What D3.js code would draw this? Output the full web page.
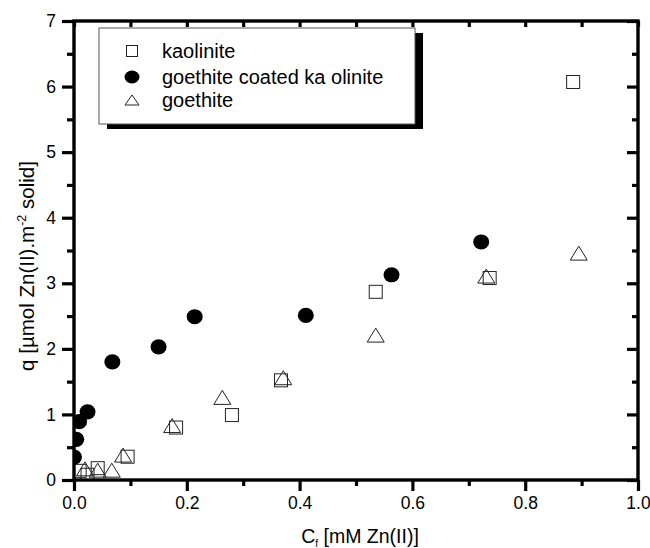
<!DOCTYPE html>
<html>
<head>
<meta charset="utf-8">
<script src="https://cdn.jsdelivr.net/npm/d3@7/dist/d3.min.js"></script>
<style>
  body { margin: 0; background: #fff; }
  svg { display: block; font-family: Arial, "Liberation Sans", sans-serif; }
</style>
</head>
<body>
<div id="chart"></div>
<script>
// series values
var kaoliniteX = [0.010, 0.024, 0.042, 0.095, 0.181, 0.280, 0.367, 0.535, 0.737, 0.885];
var kaoliniteY = [0.14, 0.08, 0.18, 0.355, 0.80, 0.99, 1.52, 2.87, 3.08, 6.07];

var coatedX = [0.0, 0.004, 0.009, 0.024, 0.068, 0.150, 0.214, 0.411, 0.563, 0.722];
var coatedY = [0.35, 0.62, 0.89, 1.04, 1.80, 2.03, 2.49, 2.51, 3.13, 3.63];

var goethiteX = [0.0195, 0.042, 0.067, 0.087, 0.174, 0.263, 0.371, 0.535, 0.731, 0.895];
var goethiteY = [0.17, 0.15, 0.15, 0.38, 0.83, 1.26, 1.56, 2.21, 3.11, 3.46];

var seriesNames = ['kaolinite', 'goethite coated ka olinite', 'goethite'];
var xTicks = [0.0, 0.2, 0.4, 0.6, 0.8, 1.0];
var yTicks = [0, 1, 2, 3, 4, 5, 6, 7];

var width = 650, height = 548;
var margin = { top: 21, right: 12, bottom: 68, left: 74 };
var plotW = width - margin.left - margin.right;
var plotH = height - margin.top - margin.bottom;

var x = d3.scaleLinear().domain([0, 1]).range([0, plotW]);
var y = d3.scaleLinear().domain([0, 7]).range([plotH, 0]);

var svg = d3.select('#chart').append('svg')
  .attr('width', width)
  .attr('height', height);

var g = svg.append('g')
  .attr('transform', 'translate(' + margin.left + ',' + margin.top + ')');

// marker shapes
function square(sel, s) {
  sel.append('rect').attr('x', -s / 2).attr('y', -s / 2).attr('width', s).attr('height', s)
    .attr('fill', 'none').attr('stroke', '#222').attr('stroke-width', 1);
}
function triangle(sel, w, h) {
  sel.append('path')
    .attr('d', 'M0,' + (-h / 2) + 'L' + (w / 2) + ',' + (h / 2) + 'L' + (-w / 2) + ',' + (h / 2) + 'Z')
    .attr('fill', 'none').attr('stroke', '#222').attr('stroke-width', 1);
}
function dot(sel, rx, ry) {
  sel.append('ellipse').attr('rx', rx).attr('ry', ry).attr('fill', '#000');
}

var clipId = 'plot-clip';
g.append('clipPath').attr('id', clipId)
  .append('rect').attr('x', 0).attr('y', -10).attr('width', plotW + 10).attr('height', plotH + 10);

var marks = g.append('g').attr('clip-path', 'url(#' + clipId + ')');

function zip(xs, ys) {
  return xs.map(function (v, i) { return { x: v, y: ys[i] }; });
}

marks.selectAll('.kao').data(zip(kaoliniteX, kaoliniteY)).enter().append('g')
  .attr('class', 'kao')
  .attr('transform', function (d) { return 'translate(' + x(d.x) + ',' + y(d.y) + ')'; })
  .each(function () { square(d3.select(this), 13); });

marks.selectAll('.coat').data(zip(coatedX, coatedY)).enter().append('g')
  .attr('class', 'coat')
  .attr('transform', function (d) { return 'translate(' + x(d.x) + ',' + y(d.y) + ')'; })
  .each(function () { dot(d3.select(this), 8, 7.6); });

marks.selectAll('.goe').data(zip(goethiteX, goethiteY)).enter().append('g')
  .attr('class', 'goe')
  .attr('transform', function (d) { return 'translate(' + x(d.x) + ',' + y(d.y) + ')'; })
  .each(function () { triangle(d3.select(this), 17, 14); });

// axes: outer ticks bottom/left, inner ticks top/right
function styleAxis(sel) {
  sel.select('.domain').remove();
  sel.selectAll('.tick line').attr('stroke', '#000').attr('stroke-width', 3.2);
  sel.selectAll('.tick text').attr('fill', '#000').style('font-size', '17.5px')
    .style('font-family', 'Arial, "Liberation Sans", sans-serif');
}

var xMinor = d3.range(0.1, 1.0, 0.2);
var yMinor = d3.range(0.5, 7, 1);

g.append('g').attr('transform', 'translate(0,' + plotH + ')')
  .call(d3.axisBottom(x).tickValues(xTicks).tickSize(11).tickPadding(6).tickFormat(d3.format('.1f')))
  .call(styleAxis);
g.append('g').attr('transform', 'translate(0,' + plotH + ')')
  .call(d3.axisBottom(x).tickValues(xMinor).tickSize(6).tickFormat(''))
  .call(styleAxis);

g.append('g')
  .call(d3.axisLeft(y).tickValues(yTicks).tickSize(12).tickPadding(6).tickFormat(d3.format('d')))
  .call(styleAxis);
g.append('g')
  .call(d3.axisLeft(y).tickValues(yMinor).tickSize(7).tickFormat(''))
  .call(styleAxis);

g.append('g')
  .call(d3.axisTop(x).tickValues(d3.range(0, 1.01, 0.1)).tickSize(-6).tickFormat(''))
  .call(styleAxis);

g.append('g').attr('transform', 'translate(' + plotW + ',0)')
  .call(d3.axisRight(y).tickValues(yTicks).tickSize(-11).tickFormat(''))
  .call(styleAxis);
g.append('g').attr('transform', 'translate(' + plotW + ',0)')
  .call(d3.axisRight(y).tickValues(yMinor).tickSize(-6).tickFormat(''))
  .call(styleAxis);

// frame
g.append('rect')
  .attr('x', 0).attr('y', 0).attr('width', plotW).attr('height', plotH)
  .attr('fill', 'none').attr('stroke', '#000').attr('stroke-width', 3.4);

// axis titles
var xt = svg.append('text')
  .attr('x', margin.left + plotW / 2 + 4).attr('y', 543)
  .attr('text-anchor', 'middle').style('font-size', '19.5px').attr('fill', '#000');
xt.append('tspan').text('C');
xt.append('tspan').attr('dy', 4).style('font-size', '10px').text('f');
xt.append('tspan').attr('dy', -4).text(' [mM Zn(II)]');

var yt = svg.append('text')
  .attr('transform', 'translate(34,266) rotate(-90)')
  .attr('text-anchor', 'middle').style('font-size', '20.5px').attr('fill', '#000');
yt.append('tspan').text('q [\u00b5mol Zn(II).m');
yt.append('tspan').attr('dy', -8).style('font-size', '12.5px').text('-2');
yt.append('tspan').attr('dy', 8).text(' solid]');

// legend with drop shadow
var legend = svg.append('g').attr('transform', 'translate(99,28)');
var legW = 316, legH = 96;
legend.append('rect').attr('x', 8).attr('y', 5).attr('width', legW).attr('height', legH).attr('fill', '#000');
legend.append('rect').attr('x', 0).attr('y', 0).attr('width', legW).attr('height', legH)
  .attr('fill', '#fff').attr('stroke', '#555').attr('stroke-width', 1);

var rowY = [23, 49, 72];
seriesNames.forEach(function (name, i) {
  var row = legend.append('g').attr('transform', 'translate(33,' + rowY[i] + ')');
  if (i === 0) square(row, 11);
  if (i === 1) dot(row, 7.5, 6.5);
  if (i === 2) triangle(row, 14, 10);
  row.append('text').attr('x', 30).attr('y', 6.5)
    .style('font-size', '20px').attr('fill', '#000').text(name);
});
</script>
</body>
</html>
